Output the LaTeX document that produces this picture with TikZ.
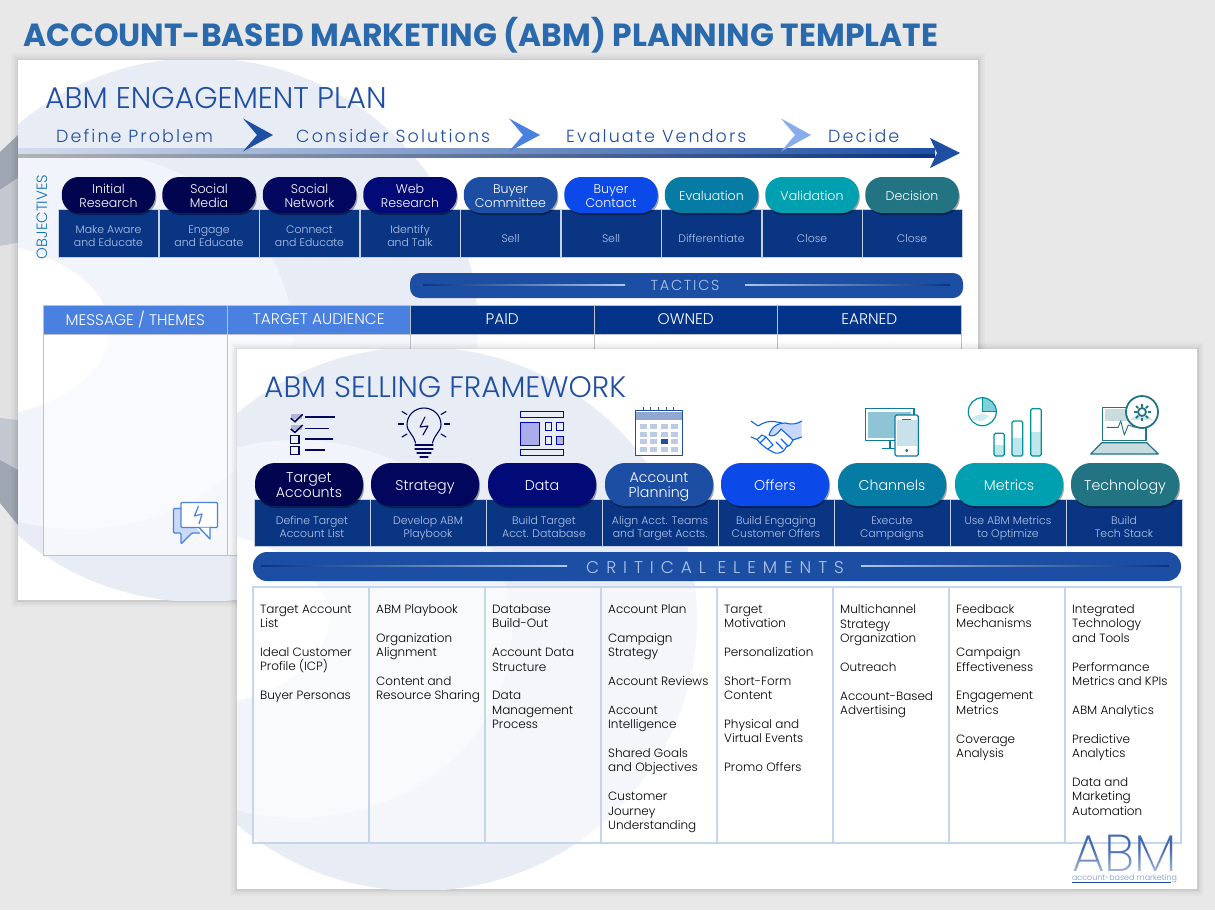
\documentclass[tikz,border=0pt]{standalone}
\usepackage{fontspec}
\setmainfont{Poppins}[UprightFont=* Light,BoldFont=* Bold]
\usetikzlibrary{shadows,fadings}
\definecolor{bgg}{HTML}{E8E8E8}
\definecolor{circA}{HTML}{E8ECF5}
\definecolor{circB}{HTML}{F1F4FA}
\definecolor{titleb}{HTML}{2A69AC}
\definecolor{headb}{HTML}{1F4FA3}
\definecolor{bandb}{HTML}{0A3583}
\definecolor{bandt}{HTML}{AFC6EA}
\definecolor{sep}{HTML}{C3D0E6}
\definecolor{barb}{HTML}{1C4FA4}
\definecolor{hdrl}{HTML}{4A80E0}
\definecolor{hdrd}{HTML}{04338A}
\definecolor{tgrey}{HTML}{BCC0C8}
\definecolor{tblue}{HTML}{C5D5EC}
\definecolor{cA}{HTML}{01044F}
\definecolor{cB}{HTML}{02065C}
\definecolor{cC}{HTML}{020A78}
\definecolor{cD}{HTML}{1C4FA4}
\definecolor{cE}{HTML}{0B4AE8}
\definecolor{cF}{HTML}{067BA4}
\definecolor{cG}{HTML}{00A0B0}
\definecolor{cH}{HTML}{227482}
\definecolor{cI}{HTML}{03075F}
\definecolor{lavn}{HTML}{B4B6D8}
\definecolor{gdark}{HTML}{9EA6B2}
\definecolor{gmid}{HTML}{C3C7CF}
\definecolor{glight}{HTML}{E2E2E2}
\tikzset{
 st/.style={execute at begin node=\vphantom{Ag},execute at end node=\vphantom{Ag}},
 slide/.style={fill=white,draw=none},
 pill/.style={rounded corners=#1,inner sep=0pt,
   drop shadow={shadow xshift=1pt,shadow yshift=-2pt,opacity=.35,fill=black}},
 pillA/.style={pill=17pt,minimum width=93.5pt,minimum height=36pt},
 pillB/.style={pill=20pt,minimum width=108pt,minimum height=43pt},
 ptA/.style={inner sep=0pt,text=white,align=center,st,font=\fontsize{12.6}{14}\selectfont},
 ptB/.style={inner sep=0pt,text=white,align=center,st,font=\fontsize{14.2}{15.6}\selectfont},
 cell/.style={fill=bandb,draw=sep,line width=.7pt,inner sep=0pt},
 cellA/.style={cell,minimum width=100pt,minimum height=48pt},
 cellB/.style={cell,minimum width=116pt,minimum height=47pt},
 ctxt/.style={inner sep=0pt,text=bandt,align=center,st,font=\fontsize{10.9}{13}\selectfont},
 head/.style={text=headb,anchor=base west,inner sep=0pt},
 phase/.style={text=headb,anchor=base west,inner sep=0pt,font=\ph\fontsize{17.5}{18}\selectfont},
 hdr/.style={draw=tgrey,line width=1pt,minimum width=183.5pt,minimum height=29pt,inner sep=0pt,
   text=white,font=\fontsize{15.4}{16}\selectfont},
 body/.style={draw=tgrey,line width=1pt,fill=white,fill opacity=.6,draw opacity=1,
   minimum width=183.5pt,minimum height=221pt,inner sep=0pt},
 lst/.style={anchor=north west,inner sep=0pt,align=left,text=black,
   font=\fontsize{12}{14.4}\selectfont},
 col/.style={draw=tblue,line width=1.2pt,fill=white,fill opacity=.55,draw opacity=1,
   minimum width=116pt,minimum height=256pt,inner sep=0pt},
 bar/.style={fill=barb,inner sep=0pt},
}
\newcommand{\skp}{\\[14.4pt]}
\newfontfamily\ph{Poppins}[UprightFont=* Light,LetterSpace=12]
\newfontfamily\phw{Poppins}[UprightFont=* Light,LetterSpace=41]
\newfontfamily\lgf{Poppins}[UprightFont=* ExtraLight]
\begin{document}
\begin{tikzpicture}[x=1pt,y=-1pt]
\useasboundingbox (0,0) rectangle (1215,910);
\fill[bgg] (0,0) rectangle (1215,910);
% left strip seen outside slide 1
\fill[gdark] (0,152) -- (18,135) -- (18,178) -- (0,190) -- cycle;
\fill[gmid] (0,190) -- (18,178) -- (18,243) -- (0,246) -- cycle;
\fill[glight] (0,246) -- (18,243) -- (18,420) -- (0,418) -- cycle;
\fill[gmid] (0,418) -- (18,420) -- (18,470) -- (0,460) -- cycle;
\fill[gdark] (0,460) -- (18,470) -- (18,525) -- (0,503) -- cycle;
% shadows
\foreach \d/\o in {7/.02,5/.025,3/.03,1.5/.05}{
 \fill[black,opacity=\o] (18-\d,60-\d) rectangle (978+\d,600+\d);
}
% ---------- slide 1
\node[slide,minimum width=960pt,minimum height=540pt,inner sep=0pt] (s1) at (498,330) {};
\begin{scope}
 \clip (18,60) rectangle (978,600);
 \fill[circA] (200,330) ellipse [x radius=278,y radius=272];
 \fill[circB] (78,340) ellipse [x radius=215,y radius=189];
 \fill[white] (-40,330) ellipse [x radius=150,y radius=89];
\end{scope}
\node[head,font=\fontsize{29.9}{32}\selectfont] (t1) at (45,108) {ABM ENGAGEMENT PLAN};
% timeline
\shade[left color=black!30,middle color=black!45!blue!50,right color=bandb] (18,153) rectangle (935,157);
\shade[left color=headb!20,middle color=hdrl!80!headb,right color=headb] (18,148) rectangle (935,153);
\coordinate (tip) at (960,153);
\fill[headb] (930,138) -- (tip) -- (930,168) -- (937,153) -- cycle;
\fill[headb] (243,118.5) -- (273,135) -- (243,151.5) -- (257,135) -- cycle;
\fill[hdrl] (509,118.5) -- (540,135) -- (509,151.5) -- (523,135) -- cycle;
\fill[hdrl!65!white] (781,118.5) -- (811,135) -- (781,151.5) -- (795,135) -- cycle;
\node[phase] (ph1) at (56,142) {Define Problem};
\node[phase] (ph2) at (296,142) {Consider Solutions};
\node[phase] (ph3) at (566,142) {Evaluate Vendors};
\node[phase] (ph4) at (828,142) {Decide};
\node[rotate=90,text=headb!80!cyan,inner sep=0pt,font=\fontsize{14.9}{16}\selectfont] (obj) at (42,217) {OBJECTIVES};
% row A cells then pills
\foreach \i/\cx/\ty/\t in {1/108.5/237.5/Make Aware\\and Educate,2/209/237.5/Engage\\and Educate,3/309.5/237.5/Connect\\and Educate,4/410/237.5/Identify\\and Talk,5/510.5/240/Sell,6/611/240/Sell,7/711.5/240/Differentiate,8/812/240/Close,9/912/240/Close}{
 \node[cellA] (ca\i) at (\cx,233.5) {};
 \node[ctxt] (cat\i) at (\cx,\ty) {\t};
}
\foreach \i/\cx/\c/\t in {1/108.5/cA/Initial\\Research,2/209/cA/Social\\Media,3/309.5/cI/Social\\Network,4/410/cC/Web\\Research,5/510.5/cD/Buyer\\Committee,6/611/cE/Buyer\\Contact,7/711.5/cF/Evaluation,8/812/cG/Validation,9/912/cH/Decision}{
 \node[pillA,fill=\c] (pa\i) at (\cx,195) {};
 \node[ptA] (pat\i) at (\cx,197.3) {\t};
}
% tactics
\node[bar,rounded corners=10pt,minimum width=553pt,minimum height=25pt] (tac) at (686.5,285.5) {};
\node[text=bandt,inner sep=0pt,font=\ph\fontsize{14.5}{16}\selectfont] (tact) at (685,285.5) {TACTICS};
\shade[left color=bandb,right color=bandt] (423,284) rectangle (625,285);
\shade[left color=bandt,right color=bandb] (745,284) rectangle (950,285);
% table
\foreach \i/\cx/\c/\t in {1/135.25/hdrl/{MESSAGE / THEMES},2/318.75/hdrl/TARGET AUDIENCE,3/502.25/hdrd/PAID,4/685.75/hdrd/OWNED,5/869.25/hdrd/EARNED}{
 \node[body] (b\i) at (\cx,444.5) {};
 \node[hdr,fill=\c] (h\i) at (\cx,319.5) {\t};
}
% speech icon
\begin{scope}[hdrl,line width=1.3pt,line join=round]
 \draw[fill=hdrl!30!white,rounded corners=1pt] (181,508.5) -- (173.5,508.5) -- (173.5,533) -- (181,533) -- (181,544) -- (192,533) -- (200,533);
 \draw[fill=white,rounded corners=1pt] (181,502.5) rectangle (217.5,527.5);
 \draw[fill=white] (199,527.5) -- (210,539) -- (210,527.5);
 \draw[line width=1.2pt] (198.5,506) -- (194.5,516) -- (202,514) -- (199,524);
\end{scope}
% shadows slide 2
\foreach \d/\o in {7/.02,5/.025,3/.03,1.5/.05}{
 \fill[black,opacity=\o] (237-\d,349-\d) rectangle (1197+\d,889+\d);
}
% ---------- slide 2
\node[slide,minimum width=960pt,minimum height=540pt,inner sep=0pt] (s2) at (717,619) {};
\begin{scope}
 \clip (237,349) rectangle (1197,889);
 \fill[circA] (419,619) ellipse [x radius=278,y radius=272];
 \fill[circB] (297,629) ellipse [x radius=215,y radius=189];
 \fill[white] (179,619) ellipse [x radius=150,y radius=89];
\end{scope}
\node[head,font=\fontsize{29.6}{32}\selectfont] (t2) at (264,397) {ABM SELLING FRAMEWORK};
% icons
% checklist
\begin{scope}[color=cB,line width=1.1pt]
 \fill[lavn] (290.5,414) rectangle (302,419);
 \fill[lavn] (290.5,424.7) rectangle (302,429.7);
 \draw[line width=1.5pt] (290.7,418.3) -- (295,421.7) -- (302.7,414.3);
 \draw[line width=1.5pt] (290.7,429) -- (295,432.4) -- (302.7,425);
 \draw (290.7,435.5) rectangle (299,443.7);
 \draw (290.7,446.2) rectangle (299,454.7);
 \draw (305.3,417) -- (335,417);
 \draw (305.3,428.7) -- (329,428.7);
 \draw (305.3,439) -- (333,439);
 \draw (305.3,450) -- (325,450);
\end{scope}
% bulb
\begin{scope}[color=cB,line width=1.1pt,line cap=round,line join=round]
 \draw (415.5,443) .. controls (413,433) and (407,432) .. (407,424.5) .. controls (407,415) and (415,408) .. (424,408) .. controls (433,408) and (441,415) .. (441,424.5) .. controls (441,432) and (435,433) .. (432.5,443);
 \draw (415,445) -- (433,445);
 \draw (415,449) -- (433,449);
 \draw (417,453) -- (431,453);
 \draw (420,457) -- (428,457);
 \draw (425,417) -- (420,427) -- (428,426) -- (423,435);
 \draw (402,411.5) -- (407,414.5);
 \draw (398.5,424) -- (403.5,424);
 \draw (402,437) -- (407,434);
 \draw (446,411.5) -- (441,414.5);
 \draw (449.5,424) -- (444.5,424);
 \draw (446,437) -- (441,434);
\end{scope}
% data
\begin{scope}[draw=cC!60!blue,line width=1pt]
 \draw (520,411.3) rectangle (563.3,417.7);
 \draw (520,449.3) rectangle (563.3,455.3);
 \draw[fill=blue!25!lavn!70!white] (520,422) rectangle (539.3,445);
 \draw (545,422.7) rectangle (551,430.3);
 \draw (556.7,422.7) rectangle (563.3,430.3);
 \draw (545,436.3) rectangle (551,444);
 \draw[fill=lavn] (556.7,436.3) rectangle (563.3,444);
\end{scope}
% calendar
\begin{scope}[headb]
 \draw[line width=1.2pt,fill=white] (635.5,410.7) rectangle (682.7,455.3);
 \fill[headb!50!white] (636.2,411.5) rectangle (682,419.5);
 \foreach \x in {643.3,650.7,658.3,666,673.3}{\draw[line width=.9pt] (\x,407) -- (\x,410.7);}
 \foreach \x in {640,650,660.7,670.7}{\foreach \y in {424,432,439.3,446.7}{
  \fill[headb!30!white] (\x,\y) rectangle +(7.3,5);}}
 \fill[headb] (660.7,439.3) rectangle +(7.3,5);
\end{scope}
% handshake
\begin{scope}[color=cE!85!cyan,line width=1.1pt,line join=round,line cap=round]
 \fill[cE!22!white] (769,435) .. controls (772,426) and (778,423) .. (785,423) .. controls (792,425) and (797,424) .. (801.7,421) -- (801.7,437) -- (793,440) -- (781,429) -- (775,436) -- cycle;
 \draw (751,421) -- (758,426) .. controls (764,422) and (769,421) .. (774,421.5) -- (782,423);
 \draw (801.7,421) .. controls (797,424) and (792,425) .. (785,423) .. controls (778,423) and (772,426) .. (769,435) .. controls (772,437) and (776,436) .. (781,429) -- (793,440) -- (801.7,437);
 \draw (751,437) -- (757,439.5) .. controls (762,446) and (770,451) .. (775,453) .. controls (782,454) and (785,450) .. (786,447) -- (790,445) -- (793,440);
 \draw (757,439.5) -- (762,435) -- (766,437) -- (760,443);
 \draw (766,437) -- (773,445) -- (768,449);
 \draw (776,442) -- (783,449);
 \draw (781,439) -- (788,446);
\end{scope}
% channels
\begin{scope}[color=cF!80!cH,line width=1.2pt,line join=round]
 \draw[fill=white] (865.3,408.7) rectangle (914,440.7);
 \fill[cF!45!white] (868,411.5) rectangle (911,438);
 \draw (890,440.7) -- (890,448.7) (882,448.7) -- (895,448.7);
 \draw[fill=white,rounded corners=1.5pt] (895,415) rectangle (918.3,456);
 \fill[cF!22!white] (896.5,420) rectangle (917,446);
 \draw (902,419.5) -- (911,419.5);
 \draw[line width=.9pt] (906.7,450.5) circle (1.1);
\end{scope}
% metrics
\begin{scope}[color=cG!90!black,line width=1.2pt]
 \fill[cG!50!white] (982.3,411.7) -- (982.3,397.7) arc[start angle=-90,end angle=0,radius=14] -- cycle;
 \fill[cG!20!white] (971,420) arc[start angle=145,end angle=60,x radius=14,y radius=-14] -- (982.3,421) -- cycle;
 \draw (982.3,411.7) circle (14);
 \draw (982.3,397.7) -- (982.3,411.7) -- (996.3,411.7);
 \fill[cG!25!white] (994,445) rectangle (1004.3,456);
 \fill[cG!25!white] (1012,438) rectangle (1022.7,456);
 \fill[cG!25!white] (1030.7,431.7) rectangle (1041.3,456);
 \draw[rounded corners=1.5pt] (994,433.3) rectangle (1004.3,456);
 \draw[rounded corners=1.5pt] (1012,421) rectangle (1022.7,456);
 \draw[rounded corners=1.5pt] (1030.7,408.7) rectangle (1041.3,456);
\end{scope}
% technology
\begin{scope}[color=cH,line width=1.2pt,line join=round]
 \draw[fill=white] (1102.7,407.3) rectangle (1146,440.7);
 \fill[cH!25!white] (1104.5,409) rectangle (1144.5,421);
 \draw[fill=cH!25!white] (1101.7,442.7) -- (1146.7,442.7) -- (1158.3,454) -- (1090.7,454) -- cycle;
 \draw[line width=.9pt] (1106.7,427.3) -- (1118.3,427.3) -- (1120.7,420.7) -- (1124.3,435) -- (1128.3,425) -- (1135,427.3);
 \draw[fill=white,line width=1.8pt] (1142,412) circle (16);
 \fill[cH!20!white] (1130,420) arc[start angle=140,end angle=40,x radius=15,y radius=-15] -- cycle;
 \foreach \a in {0,45,...,315}{\draw[line width=2pt] (1142,412) ++(\a:5.5) -- ++(\a:3);}
 \draw[line width=1.8pt] (1142,412) circle (4);
\end{scope}
% row B cells then pills
\foreach \i/\cx/\t in {1/312/Define Target\\Account List,2/428/Develop ABM\\Playbook,3/544/Build Target\\Acct. Database,4/660/Align Acct. Teams\\and Target Accts.,5/776/Build Engaging\\Customer Offers,6/892/Execute\\Campaigns,7/1008/Use ABM Metrics\\to Optimize,8/1124/Build\\Tech Stack}{
 \node[cellB] (cb\i) at (\cx,522.5) {};
 \node[ctxt] (cbt\i) at (\cx,528.5) {\t};
}
\foreach \i/\cx/\c/\t in {1/309/cA/Target\\Accounts,2/425/cB/Strategy,3/542/cC/Data,4/659/cD/Account\\Planning,5/775/cE/Offers,6/892/cF/Channels,7/1009/cG/Metrics,8/1125/cH/Technology}{
 \node[pillB,fill=\c] (pb\i) at (\cx,484.5) {};
 \node[ptB] (pbt\i) at (\cx,487) {\t};
}
% critical elements
\node[bar,rounded corners=14pt,minimum width=928pt,minimum height=29pt] (crit) at (717,566.5) {};
\node[text=bandt,inner sep=0pt,font=\phw\fontsize{17}{18}\selectfont] (critt) at (715,567.5) {CRITICAL ELEMENTS};
\shade[left color=bandb,right color=bandt] (261,565) rectangle (567,566);
\shade[left color=bandt,right color=bandb] (861,565) rectangle (1169,566);
% columns
\foreach \i/\cx in {1/311,2/427,3/543,4/659,5/775,6/891,7/1007,8/1123}{
 \node[col] (k\i) at (\cx,715) {};
}
\node[lst] (l1) at (260,604.5) {Target Account\\List\skp Ideal Customer\\Profile (ICP)\skp Buyer Personas};
\node[lst] (l2) at (376,604.5) {ABM Playbook\skp Organization\\Alignment\skp Content and\\Resource Sharing};
\node[lst] (l3) at (492,604.5) {Database\\Build-Out\skp Account Data\\Structure\skp Data\\Management\\Process};
\node[lst] (l4) at (608,604.5) {Account Plan\skp Campaign\\Strategy\skp Account Reviews\skp Account\\Intelligence\skp Shared Goals\\and Objectives\skp Customer\\Journey\\Understanding};
\node[lst] (l5) at (724,604.5) {Target\\Motivation\skp Personalization\skp Short-Form\\Content\skp Physical and\\Virtual Events\skp Promo Offers};
\node[lst] (l6) at (840,604.5) {Multichannel\\Strategy\\Organization\skp Outreach\skp Account-Based\\Advertising};
\node[lst] (l7) at (956,604.5) {Feedback\\Mechanisms\skp Campaign\\Effectiveness\skp Engagement\\Metrics\skp Coverage\\Analysis};
\node[lst] (l8) at (1072,604.5) {Integrated\\Technology\\and Tools\skp Performance\\Metrics and KPIs\skp ABM Analytics\skp Predictive\\Analytics\skp Data and\\Marketing\\Automation};
% logo
\node[anchor=base,inner sep=0pt,text=headb!85!white] (logo) at (1124.5,871) {\raisebox{0pt}[\height][0pt]{\resizebox{105pt}{!}{\lgf\fontsize{50}{50}\selectfont ABM}}};
\fill[white,path fading=north,fill opacity=.55] (1068,848) rectangle (1182,873);
\node[anchor=base,inner sep=0pt,text=headb!60!white] (logot) at (1124.5,880) {\raisebox{0pt}[4pt][0pt]{\resizebox{105pt}{!}{\fontsize{10}{10}\selectfont account-based marketing}}};
\coordinate (ll) at (1072,882);
\coordinate (lr) at (1171,882);
\draw[headb,line width=.6pt] (ll) -- (lr);
% main title
\node[anchor=base west,inner sep=0pt,text=titleb] (main) at (23,46) {\resizebox{915pt}{\height}{\fontsize{32}{34}\selectfont\bfseries ACCOUNT-BASED MARKETING (ABM) PLANNING TEMPLATE}};
\end{tikzpicture}
\end{document}
